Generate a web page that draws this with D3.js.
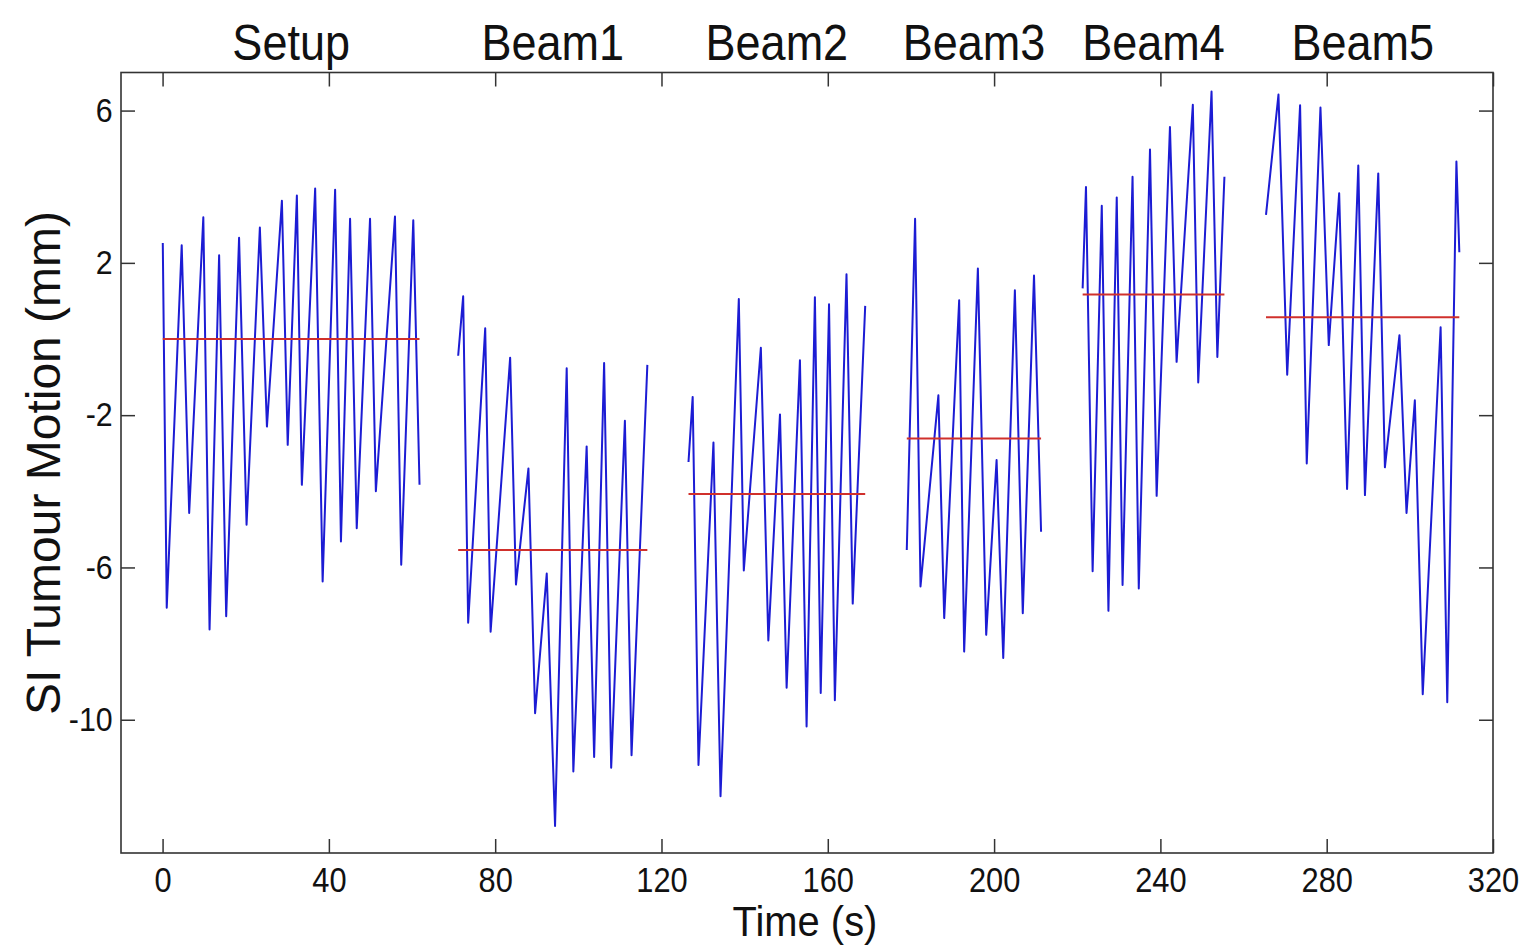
<!DOCTYPE html>
<html>
<head>
    <meta charset="utf-8">
    <title>SI Tumour Motion</title>
    <style>
        html, body {
            margin: 0;
            padding: 0;
            background: #fff;
        }
        text {
            font-family: "Liberation Sans", Arial, sans-serif;
            fill: #111;
        }
        .axis path { display: none; }
        .axis line { stroke: #333; stroke-width: 1.5; }
    </style>
    <script src="https://d3js.org/d3.v7.min.js"></script>
</head>
<body>
    <svg id="chart"></svg>
</body>
<script>
// segment names (titles above the plot)
const segmentNames = ["Setup", "Beam1", "Beam2", "Beam3", "Beam4", "Beam5"];

// breathing traces, [time (s), SI motion (mm)] turning points
const setupTrace = [[0.05, 2.52], [1.0, -7.06], [4.6, 2.46], [6.4, -4.57], [9.8, 3.2], [11.3, -7.63],
    [13.6, 2.2], [15.3, -7.28], [18.4, 2.66], [20.2, -4.88], [23.4, 2.93], [25.1, -2.3],
    [28.7, 3.63], [30.1, -2.78], [32.3, 3.77], [33.5, -3.83], [36.7, 3.95], [38.5, -6.37],
    [41.5, 3.92], [42.9, -5.32], [45.1, 3.16], [46.7, -4.97], [49.9, 3.16], [51.3, -4.0],
    [55.9, 3.22], [57.4, -5.93], [60.3, 3.12], [61.8, -3.83]];
const beam1Trace = [[71.1, -0.44], [72.3, 1.12], [73.5, -7.45], [77.6, 0.28], [78.9, -7.69],
    [83.6, -0.49], [85.0, -6.45], [88.0, -3.4], [89.6, -9.83], [92.4, -6.16], [94.4, -12.79],
    [97.2, -0.77], [98.8, -11.36], [102.0, -2.82], [103.8, -10.98], [106.2, -0.63],
    [107.9, -11.26], [111.2, -2.15], [112.8, -10.93], [116.6, -0.68]];
const beam2Trace = [[126.5, -3.23], [127.5, -1.52], [128.9, -11.19], [132.5, -2.72], [134.2, -12.01],
    [138.6, 1.05], [139.8, -6.08], [143.9, -0.23], [145.7, -7.92], [148.5, -1.98], [150.1, -9.16],
    [153.3, -0.56], [154.9, -10.18], [156.9, 1.1], [158.3, -9.3], [160.3, 0.91], [161.7, -9.49],
    [164.5, 1.7], [166.0, -6.95], [169.0, 0.87]];
const beam3Trace = [[179.0, -5.54], [181.0, 3.16], [182.3, -6.5], [186.6, -1.48], [188.0, -7.33],
    [191.6, 1.02], [192.8, -8.21], [196.1, 1.85], [198.1, -7.77], [200.6, -3.18], [202.2, -8.38],
    [205.0, 1.28], [206.9, -7.2], [209.6, 1.67], [211.3, -5.06]];
const beam4Trace = [[221.3, 1.33], [222.1, 3.99], [223.7, -6.1], [225.9, 3.5], [227.5, -7.14],
    [229.5, 3.72], [230.9, -6.46], [233.3, 4.26], [234.8, -6.55], [237.5, 4.98], [239.1, -4.12],
    [242.3, 5.57], [243.9, -0.6], [247.8, 6.15], [249.1, -1.14], [252.3, 6.5], [253.7, -0.47],
    [255.4, 4.26]];
const beam5Trace = [[265.4, 3.26], [268.4, 6.42], [270.5, -0.94], [273.6, 6.14], [275.2, -3.27],
    [278.5, 6.08], [280.5, -0.16], [283.0, 3.83], [284.9, -3.94], [287.6, 4.56], [289.2, -4.1],
    [292.4, 4.35], [294.0, -3.37], [297.5, 0.1], [299.2, -4.57], [301.2, -1.61], [303.1, -9.33],
    [307.4, 0.31], [309.0, -9.54], [311.2, 4.66], [311.9, 2.28]];

// mean position of each segment (red lines)
const segmentMeans = [0.0, -5.54, -4.07, -2.61, 1.17, 0.57];

// tick labels
const xTicks = [0, 40, 80, 120, 160, 200, 240, 280, 320];
const yTicks = [6, 2, -2, -6, -10];

const traces = [setupTrace, beam1Trace, beam2Trace, beam3Trace, beam4Trace, beam5Trace];

const W = 1528, H = 946;
const margin = { top: 72.5, right: 35, bottom: 93, left: 121 };
const width = W - margin.left - margin.right;
const height = H - margin.top - margin.bottom;

const svgRoot = d3.select("#chart").attr("width", W).attr("height", H);
const svg = svgRoot.append("g")
    .attr("transform", "translate(" + margin.left + "," + margin.top + ")");

const x = d3.scaleLinear().domain([-10, 320]).range([0, width]);
const y = d3.scaleLinear().domain([-13.5, 7]).range([height, 0]);

// axes with inward ticks on all four sides
const tick = 14;
const plain = d => String(d);   // keep a plain hyphen for negatives
const xAxis = svg.append("g").attr("class", "axis x")
    .attr("transform", "translate(0," + height + ")")
    .call(d3.axisBottom(x).tickValues(xTicks).tickFormat(plain)
        .tickSizeInner(-tick).tickSizeOuter(0).tickPadding(14));
xAxis.selectAll("text")
    .attr("font-size", "35px")
    .attr("transform", "scale(0.88,1)");

svg.append("g").attr("class", "axis")
    .call(d3.axisTop(x).tickValues(xTicks).tickSizeInner(-tick).tickSizeOuter(0).tickFormat(""));

const yAxis = svg.append("g").attr("class", "axis y")
    .call(d3.axisLeft(y).tickValues(yTicks).tickFormat(plain)
        .tickSizeInner(-tick).tickSizeOuter(0).tickPadding(9));
yAxis.selectAll("text")
    .attr("font-size", "33px")
    .attr("transform", "scale(0.92,1)");

svg.append("g").attr("class", "axis")
    .attr("transform", "translate(" + width + ",0)")
    .call(d3.axisRight(y).tickValues(yTicks).tickSizeInner(-tick).tickSizeOuter(0).tickFormat(""));

svg.append("rect")
    .attr("x", 0).attr("y", 0)
    .attr("width", width).attr("height", height)
    .attr("fill", "none")
    .attr("stroke", "#333")
    .attr("stroke-width", 1.6);

// traces
const line = d3.line()
    .x(d => x(d[0]))
    .y(d => y(d[1]));

svg.selectAll(".trace")
    .data(traces)
    .enter()
    .append("path")
    .attr("class", "trace")
    .attr("d", line)
    .attr("fill", "none")
    .attr("stroke", "#1c1cd4")
    .attr("stroke-width", 2)
    .attr("stroke-linejoin", "round");

// mean lines
svg.selectAll(".mean")
    .data(traces)
    .enter()
    .append("line")
    .attr("class", "mean")
    .attr("x1", d => x(d[0][0]))
    .attr("x2", d => x(d[d.length - 1][0]))
    .attr("y1", (d, i) => y(segmentMeans[i]))
    .attr("y2", (d, i) => y(segmentMeans[i]))
    .attr("stroke", "#d0302c")
    .attr("stroke-width", 2);

// segment titles, centred over each segment
svg.selectAll(".seg-title")
    .data(segmentNames)
    .enter()
    .append("text")
    .attr("class", "seg-title")
    .attr("transform", (d, i) => {
        const tr = traces[i];
        const cx = x((tr[0][0] + tr[tr.length - 1][0]) / 2);
        return "translate(" + cx + "," + (60 - margin.top) + ") scale(0.9,1)";
    })
    .attr("text-anchor", "middle")
    .attr("font-size", "50px")
    .text(d => d);

// axis labels
svg.append("text")
    .attr("transform", "translate(" + (805 - margin.left) + "," + (936 - margin.top) + ") scale(0.95,1)")
    .attr("text-anchor", "middle")
    .attr("font-size", "42px")
    .text("Time (s)");

svg.append("text")
    .attr("transform", "translate(" + (60 - margin.left) + "," + (463 - margin.top) + ") rotate(-90)")
    .attr("text-anchor", "middle")
    .attr("font-size", "48px")
    .text("SI Tumour Motion (mm)");
</script>
</html>
